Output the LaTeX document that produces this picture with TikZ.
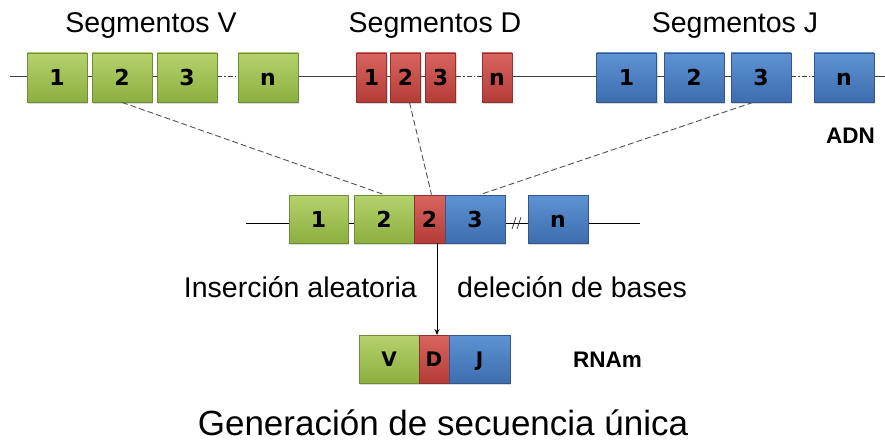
\documentclass[tikz,border=0pt]{standalone}
\usepackage{fontspec}
\setmainfont{Liberation Sans}
\newfontfamily\boxfont{DejaVu Sans}
\usetikzlibrary{shadows,arrows.meta,calc}
\definecolor{gtop}{HTML}{B5D26C}
\definecolor{gbot}{HTML}{8CAF3F}
\definecolor{gbrd}{HTML}{71893A}
\definecolor{rtop}{HTML}{D9655F}
\definecolor{rbot}{HTML}{B43C38}
\definecolor{rbrd}{HTML}{8C3230}
\definecolor{btop}{HTML}{5E93D3}
\definecolor{bbot}{HTML}{3D6DAE}
\definecolor{bbrd}{HTML}{34568A}
\definecolor{lgray}{HTML}{404040}
\tikzset{
  seg/.style={rectangle, inner sep=0pt, line width=0.8pt, text=black,
    font=\boxfont\bfseries\fontsize{22}{23}\selectfont,
    text height=16pt, text depth=0pt,
    drop shadow={shadow xshift=1.2pt, shadow yshift=-2pt, opacity=0.3}},
  gbox/.style={seg, draw=gbrd, top color=gtop, bottom color=gbot},
  rbox/.style={seg, draw=rbrd, top color=rtop, bottom color=rbot},
  bbox/.style={seg, draw=bbrd, top color=btop, bottom color=bbot},
  top/.style={minimum height=49pt},
  mid/.style={minimum height=48pt},
  wide/.style={minimum width=60pt},
  narrow/.style={minimum width=30pt},
  small/.style={font=\boxfont\bfseries\fontsize{20}{21}\selectfont, text height=14.6pt},
  dna/.style={draw=lgray, line width=1pt},
  gapline/.style={draw=lgray, line width=1pt, dash pattern=on 5pt off 2pt on 1.5pt off 2pt},
  link/.style={draw=lgray!90, line width=0.9pt, dash pattern=on 6pt off 3pt},
  head/.style={font=\fontsize{28.5}{30}\selectfont, anchor=base, inner sep=0pt},
  lbl/.style={font=\fontsize{28.5}{30}\selectfont, inner sep=0pt},
  tag/.style={font=\bfseries\fontsize{22.5}{24}\selectfont, anchor=base west, inner sep=0pt},
}
\begin{document}
\begin{tikzpicture}[x=1pt,y=-1pt]
\useasboundingbox (0,0) rectangle (885,441);
% DNA lines (top)
\coordinate (tl) at (10,77);
\coordinate (tr) at (885,77);
\coordinate (ml) at (246,223);
\coordinate (mr) at (640,223);
\coordinate (V3e) at (217,77);
\coordinate (Vnw) at (238,77);
\coordinate (D3e) at (456,77);
\coordinate (Dnw) at (482,77);
\coordinate (J3e) at (791,77);
\coordinate (Jnw) at (814,77);
\draw[dna] (tl) -- (V3e);
\draw[gapline] (V3e) -- (Vnw);
\draw[dna] (Vnw) -- (D3e);
\draw[gapline] (D3e) -- (Dnw);
\draw[dna] (Dnw) -- (J3e);
\draw[gapline] (J3e) -- (Jnw);
\draw[dna] (Jnw) -- (tr);
\draw[dna, draw=black] (ml) -- (mr);
% top segments
\node[gbox,top,wide] (V1) at (57,77.5) {1};
\node[gbox,top,wide] (V2) at (122,77.5) {2};
\node[gbox,top,wide] (V3) at (187,77.5) {3};
\node[gbox,top,wide] (Vn) at (268,77.5) {n};
\node[rbox,top,narrow] (D1) at (371.5,77.5) {1};
\node[rbox,top,narrow] (D2) at (405.5,77.5) {2};
\node[rbox,top,narrow] (D3) at (440.5,77.5) {3};
\node[rbox,top,narrow] (Dn) at (497,77.5) {n};
\node[bbox,top,wide] (J1) at (626.5,77.5) {1};
\node[bbox,top,wide] (J2) at (694,77.5) {2};
\node[bbox,top,wide] (J3) at (761,77.5) {3};
\node[bbox,top,wide] (Jn) at (844,77.5) {n};
% headers
\node[head] (hV) at (151,33) {Segmentos V};
\node[head] (hD) at (435,33) {Segmentos D};
\node[head] (hJ) at (735,33) {Segmentos J};
\node[tag] (adn) at (826,143) {ADN};
% middle row
\node[gbox,mid,minimum width=59pt] (mV1) at (318.5,219) {1};
\node[gbox,mid,wide] (mV2) at (384,219) {2};
\node[rbox,mid,minimum width=31pt] (mD) at (429.5,219) {2};
\node[bbox,mid,wide] (mJ3) at (475,219) {3};
\node[bbox,mid,wide] (mJn) at (558,219) {n};
% break mark
\coordinate (s1) at (512,229);
\coordinate (s2) at (516,217);
\coordinate (s3) at (517,229);
\coordinate (s4) at (521,217);
\draw[dna, line width=0.8pt] (s1) -- (s2);
\draw[dna, line width=0.8pt] (s3) -- (s4);
% dashed links
\draw[link] (V2.south) -- (mV2.north);
\draw[link] ($(D2.south)+(4,0)$) -- ($(mD.north)+(2,0)$);
\draw[link] ($(J3.south)+(-8,0)$) -- ($(mJ3.north)+(5,0)$);
% bottom row
\node[gbox,small,minimum height=48pt,wide] (bV) at (389,359) {V};
\node[rbox,small,minimum height=48pt,narrow] (bD) at (434,359) {D};
\node[bbox,small,minimum height=48pt,minimum width=61pt] (bJ) at (479.5,359) {J};
\node[tag] (rna) at (573,367) {RNAm};
% arrow
\coordinate (a1) at (437,243);
\coordinate (a2) at (437,335);
\draw[black, line width=0.9pt, -{Stealth[length=6pt,width=5pt]}] (a1) -- (a2);
% labels
\node[lbl, anchor=base east] (ins) at (417,297) {Inserción aleatoria};
\node[lbl, anchor=base west] (del) at (457,297) {deleción de bases};
\node[head, font=\fontsize{35}{37}\selectfont] (title) at (443,435) {Generación de secuencia única};
\end{tikzpicture}
\end{document}
